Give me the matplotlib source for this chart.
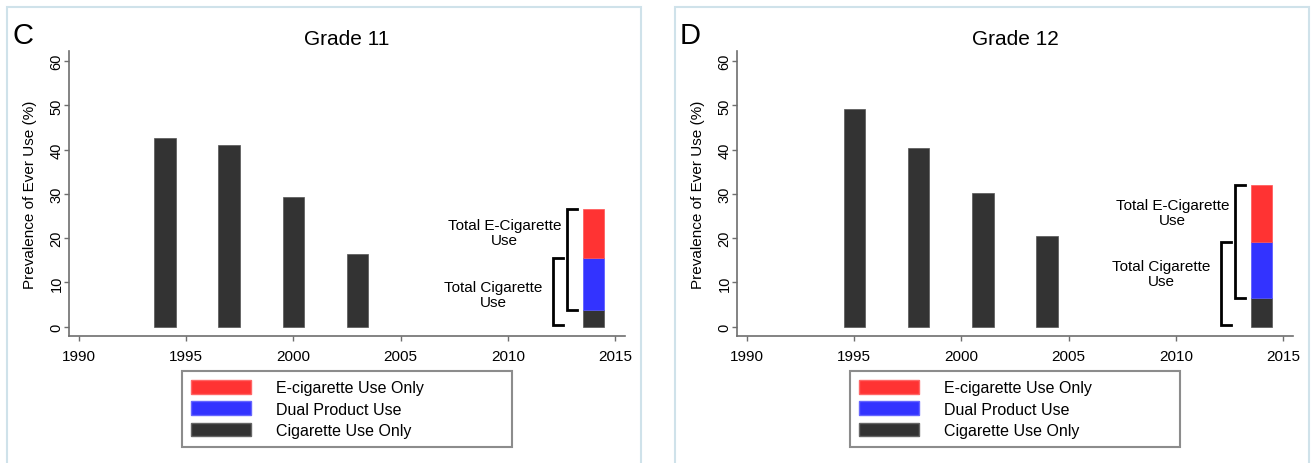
import matplotlib
matplotlib.use("Agg")
import matplotlib.pyplot as plt
from matplotlib.patches import Patch, Rectangle

plt.rcParams['font.family'] = ['Liberation Sans', 'DejaVu Sans']

# ---- data -------------------------------------------------------------
panel_letters = ["C", "D"]
panel_titles = ["Grade 11", "Grade 12"]

# cigarette-only prevalence of ever use, by survey year
cig_years = [[1994, 1997, 2000, 2003], [1995, 1998, 2001, 2004]]
cig_values = [[42.7, 41.0, 29.2, 16.4], [49.2, 40.3, 30.3, 20.4]]

# 2014 stacked bar: cigarette only, dual use, e-cigarette only
stack_year = 2014
stack_cig_only = [3.8, 6.4]
stack_dual = [11.7, 12.8]
stack_ecig_only = [11.1, 12.9]

legend_labels = ["E-cigarette Use Only", "Dual Product Use", "Cigarette Use Only"]
x_ticks = [1990, 1995, 2000, 2005, 2010, 2015]
y_ticks = [0, 10, 20, 30, 40, 50, 60]
y_label = "Prevalence of Ever Use (%)"

# ---- style ------------------------------------------------------------
RED = "#ff3333"
BLUE = "#3333ff"
DARK = "#333333"
AXIS_GRAY = "#6e6e6e"
BORDER = "#cfe2ea"

W, H = 1314, 464
fig = plt.figure(figsize=(W / 100, H / 100), dpi=100)


def fx(px):
    return px / W


def fy(py):
    return 1 - py / H


panel_offset = 668
for i in range(2):
    off = panel_offset * i

    # light panel frame, open at the bottom
    fig.add_artist(Rectangle((fx(7 + off), fy(520)), fx(634), fy(8) - fy(520),
                             transform=fig.transFigure, fill=False,
                             edgecolor=BORDER, linewidth=1.5))

    ax = fig.add_axes([fx(69 + off), fy(337), fx(556), fy(52) - fy(337)])

    ax.bar(cig_years[i], cig_values[i], width=1.0, color=DARK,
           edgecolor="#555555", linewidth=0.5)
    c, d, e = stack_cig_only[i], stack_dual[i], stack_ecig_only[i]
    ax.bar(stack_year, c, width=1.0, color=DARK, edgecolor="#555555", linewidth=0.5)
    ax.bar(stack_year, d, bottom=c, width=1.0, color=BLUE, edgecolor="#5555ff", linewidth=0.5)
    ax.bar(stack_year, e, bottom=c + d, width=1.0, color=RED, edgecolor="#ff5555", linewidth=0.5)

    # bracket spanning total e-cigarette use (dual + e-cig only)
    bx, bt = 2012.78, 2013.25
    ax.plot([bt, bx, bx, bt], [c + d + e, c + d + e, c, c],
            color="black", linewidth=2, solid_joinstyle="miter", clip_on=False)
    # bracket spanning total cigarette use (cig only + dual)
    cx, ct = 2012.1, 2012.57
    ax.plot([ct, cx, cx, ct], [c + d, c + d, 0.4, 0.4],
            color="black", linewidth=2, solid_joinstyle="miter", clip_on=False)

    ecig_text_y = [21.2, 25.9][i]
    cig_text_y = [7.2, 12.0][i]
    ax.text(2009.85, ecig_text_y, "Total E-Cigarette\nUse", ha="center", va="center",
            fontsize=11, linespacing=1.1)
    ax.text(2009.32, cig_text_y, "Total Cigarette\nUse", ha="center", va="center",
            fontsize=11, linespacing=1.1)

    ax.set_xlim(1989.53, 2015.47)
    ax.set_ylim(-2.1, 62.3)
    ax.set_xticks(x_ticks)
    ax.set_xticklabels([str(t) for t in x_ticks], fontsize=11)
    ax.set_yticks(y_ticks)
    ax.set_yticklabels([str(t) for t in y_ticks], fontsize=10.5, rotation=90, va="center")
    ax.tick_params(axis="both", direction="out", length=3.5, width=1.0, color=AXIS_GRAY)
    ax.tick_params(axis="y", pad=0.5)
    ax.tick_params(axis="x", pad=6)
    for s in ("top", "right"):
        ax.spines[s].set_visible(False)
    for s in ("left", "bottom"):
        ax.spines[s].set_color(AXIS_GRAY)
        ax.spines[s].set_linewidth(1.2)

    ax.set_ylabel(y_label, fontsize=11)
    ax.yaxis.set_label_coords(-0.058, 0.5)
    ax.set_title(panel_titles[i], fontsize=15, pad=5)

    fig.text(fx(12 + off), fy(44), panel_letters[i], fontsize=21,
             ha="left", va="baseline")

    handles = [Patch(facecolor=RED, edgecolor="#ff6666"),
               Patch(facecolor=BLUE, edgecolor="#6666ff"),
               Patch(facecolor=DARK, edgecolor="#666666")]
    leg = ax.legend(handles, legend_labels, loc="upper left", mode="expand",
                    bbox_to_anchor=(fx(182 + off), fy(446), fx(330), fy(372) - fy(446)),
                    bbox_transform=fig.transFigure, borderaxespad=0,
                    fontsize=11.5, handlelength=3.75, handleheight=0.95,
                    handletextpad=1.6, labelspacing=0.38, borderpad=0.55,
                    fancybox=False, frameon=True)
    leg.get_frame().set_edgecolor("#707070")
    leg.get_frame().set_linewidth(1.5)

fig.savefig("out.png", dpi=100)
